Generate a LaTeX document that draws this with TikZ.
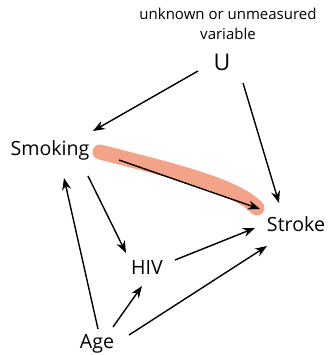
\documentclass[tikz,border=0pt]{standalone}
\usepackage{fontspec}
\setmainfont{Open Sans}
\usetikzlibrary{arrows.meta,calc}
\definecolor{hl}{RGB}{242,163,136}
\begin{document}
\begin{tikzpicture}[x=1pt,y=-1pt,
  var/.style={inner sep=0pt,font=\fontsize{19.6}{21}\selectfont},
  arr/.style={-{Stealth[length=12pt,width=9pt]},line width=1.4pt}]
\useasboundingbox (0,0) rectangle (329,355);
\node[inner sep=0pt,align=center,font=\fontsize{15}{19.5}\selectfont] (lab) at (228,24) {unknown or unmeasured\\variable};
\node[var,font=\fontsize{23}{24}\selectfont] (U) at (222,62) {U};
\node[var] (S) at (50,150) {Smoking};
\node[var] (T) at (296,224) {Stroke};
\node[var] (H) at (147,268) {HIV};
\node[var] (A) at (97,344) {Age};
\draw[hl,line width=15pt,line cap=round] ($(S)+(50,2)$) .. controls ($(S)+(120,20)$) and ($(S)+(185,35)$) .. ($(T)+(-39,-16)$);
\draw[arr] ($(U)+(-24,9)$) -- ($(S)+(43,-19)$);
\draw[arr] ($(U)+(21,21)$) -- ($(T)+(-17,-21)$);
\draw[arr] ($(S)+(69,10)$) -- ($(T)+(-36,-15)$);
\draw[arr] ($(S)+(38,26)$) -- ($(H)+(-21,-15)$);
\draw[arr] ($(A)+(1,-15)$) -- ($(S)+(14,28)$);
\draw[arr] ($(A)+(16,-17)$) -- ($(H)+(-5,18)$);
\draw[arr] ($(A)+(32,-9)$) -- ($(T)+(-29,22)$);
\draw[arr] ($(H)+(28,-8)$) -- ($(T)+(-41,4)$);
\end{tikzpicture}
\end{document}
